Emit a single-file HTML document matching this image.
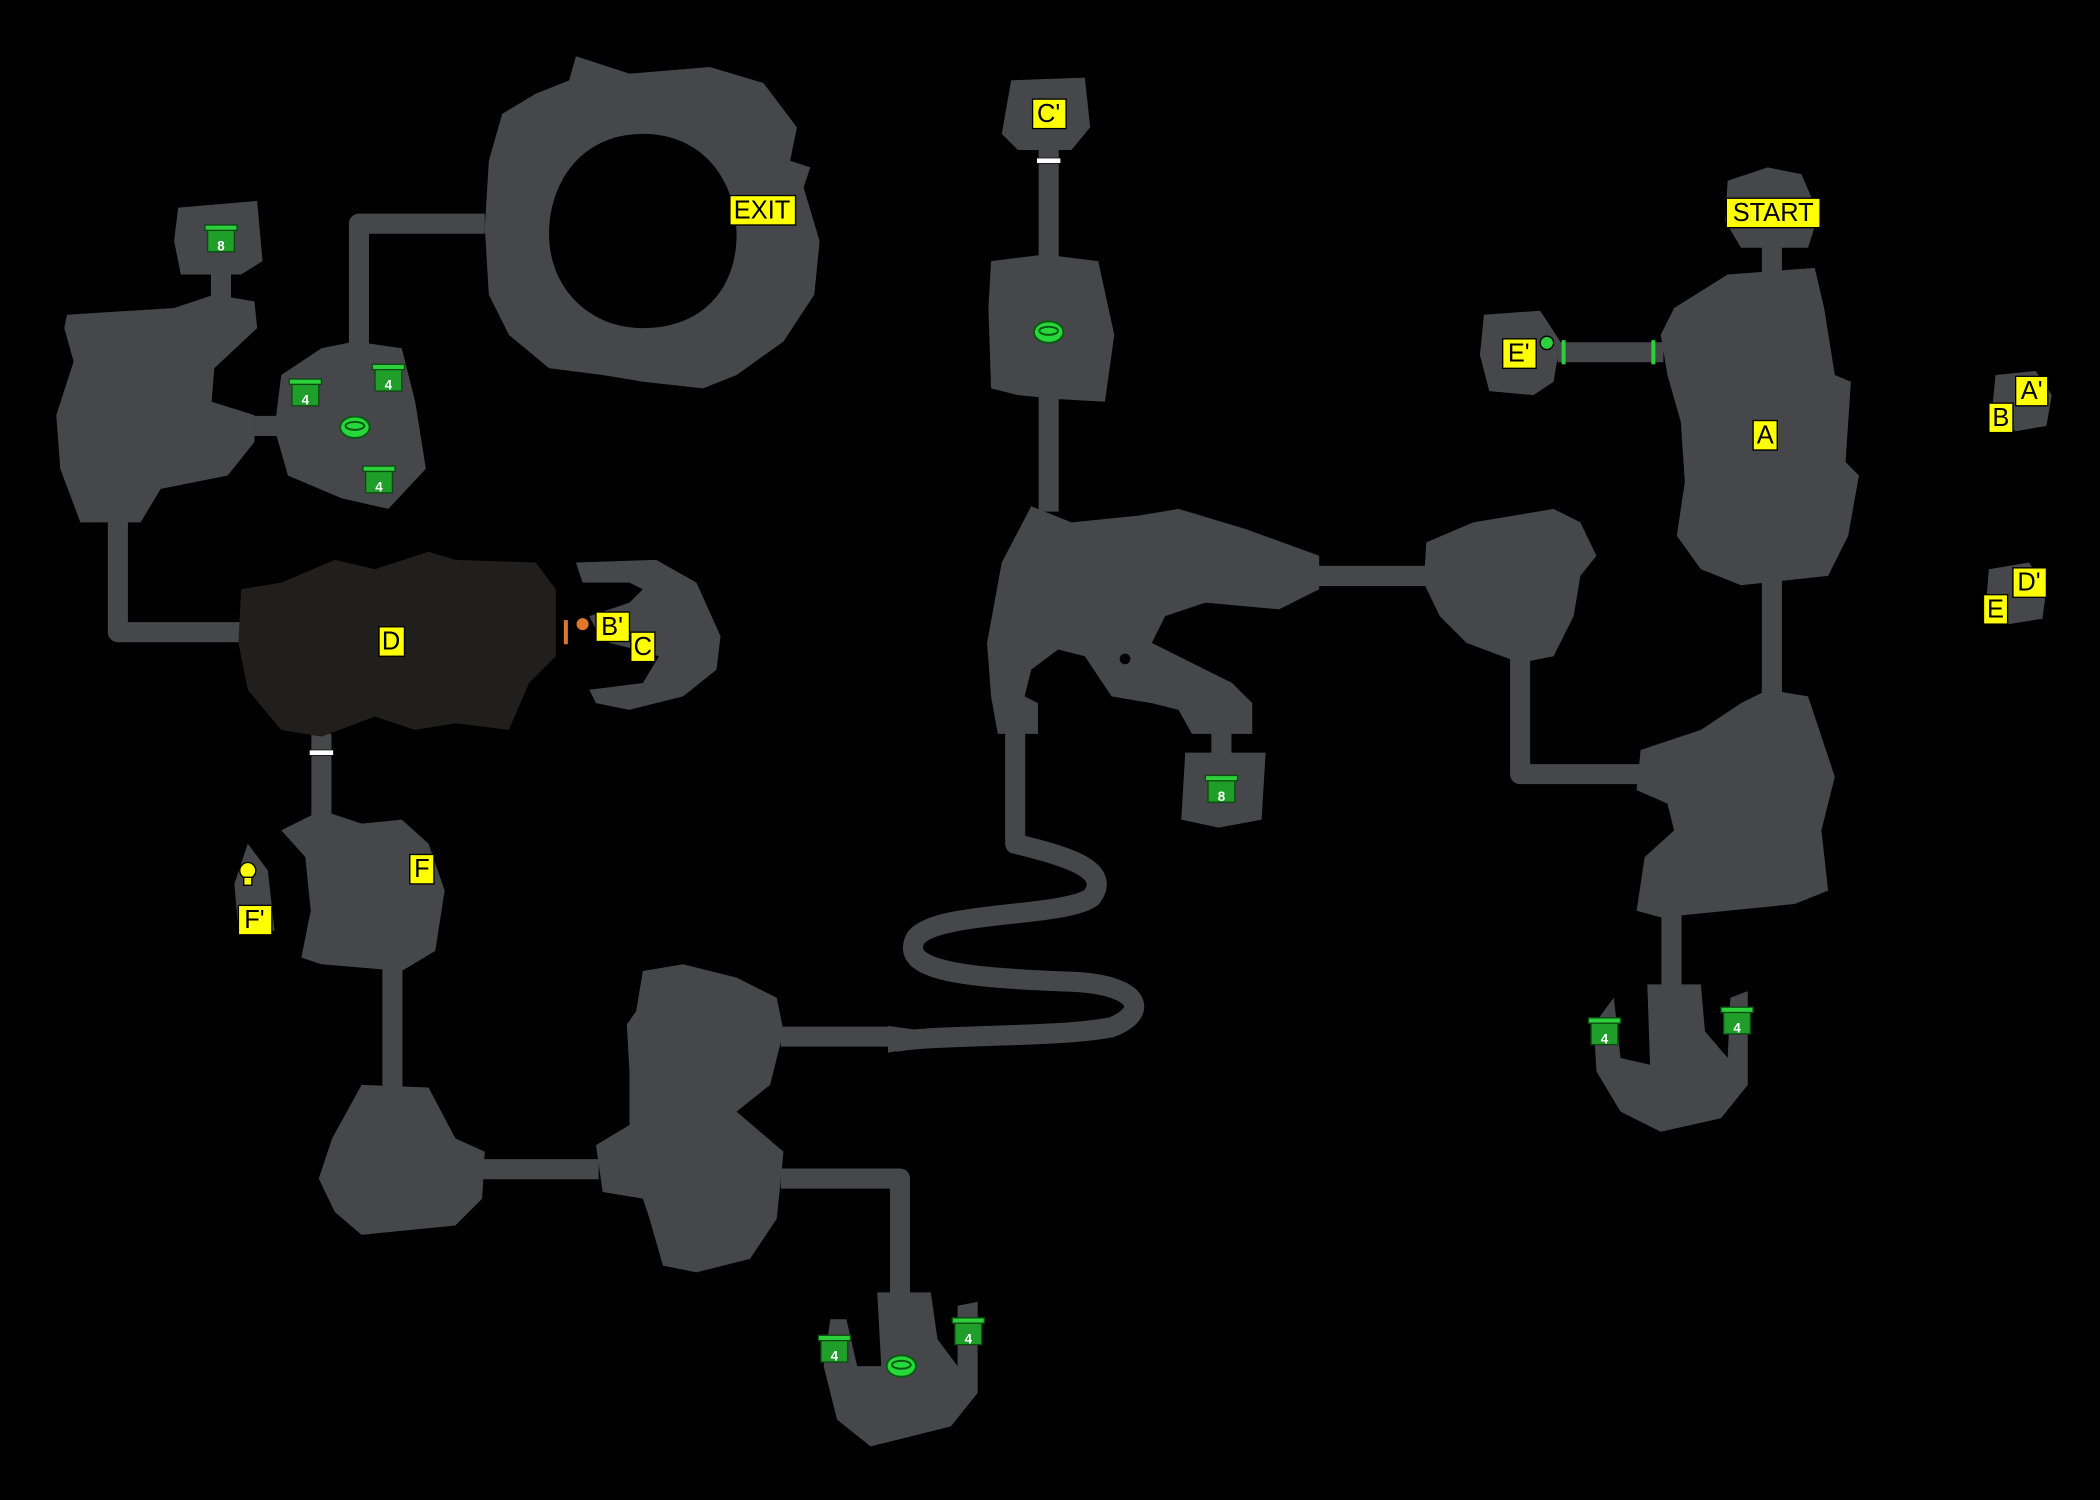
<!DOCTYPE html>
<html><head><meta charset="utf-8"><style>
html,body{margin:0;padding:0;background:#000;}
svg{display:block}
text{font-family:"Liberation Sans",sans-serif;}
.r{fill:#45474b}
.c{stroke:#45474b;stroke-width:15;fill:none;stroke-linejoin:round}
.lb{fill:#ffff00;stroke:#000;stroke-width:1}
.lt{font-size:19px;fill:#000;text-anchor:middle;dominant-baseline:central}
</style></head><body>
<svg width="2100" height="1500" viewBox="0 0 1568 1120" preserveAspectRatio="none" xmlns="http://www.w3.org/2000/svg">
<rect width="1568" height="1120" fill="#000"/>
<defs>
<g id="chest"><rect x="-10" y="-9" width="20" height="17" fill="#1f9e2a" stroke="#0d4a12" stroke-width="1"/><rect x="-12" y="-12" width="24" height="4" fill="#2bd03a" stroke="#0d4a12" stroke-width="1"/></g>
<g id="pad"><ellipse cx="0" cy="0" rx="11" ry="8" fill="#27d83a" stroke="#0b5a14" stroke-width="1.5"/><ellipse cx="0" cy="-1" rx="7" ry="3" fill="none" stroke="#0b5a14" stroke-width="1.5"/></g>
</defs>
<!-- corridors -->
<path class="c" d="M165 205 V228"/>
<path class="c" d="M190 318 H212"/>
<path class="c" d="M268 258 V167 H362"/>
<path class="c" d="M88 388 V472 H182"/>
<path class="c" d="M240 548 V615"/>
<path class="c" d="M293 722 V812"/>
<path class="c" d="M360 873 H447"/>
<path class="c" d="M583 774 H668"/>
<path class="c" d="M583 880 H672 V968"/>
<path class="c" d="M783 110 V196"/>
<path class="c" d="M783 296 V382"/>
<path class="c" d="M758 545 V630 C800 640 830 650 815 670 C795 685 700 680 684 700 C670 725 720 730 800 733 C850 735 860 755 830 767 C790 775 700 772 668 778"/>
<path class="c" d="M912 546 V566"/>
<path class="c" d="M983 430 H1067"/>
<path class="c" d="M1135 492 V578 H1226"/>
<path class="c" d="M1248 683 V737"/>
<path class="c" d="M1323 433 V518"/>
<path class="c" d="M1323 183 V207"/>
<path class="c" d="M1163 263 H1242"/>
<path d="M663 766 L700 771 L700 779 L663 786Z" class="r"/>
<!-- rooms -->
<polygon class="r" points="133,155 192,150 196,195 180,205 135,205 130,180"/>
<polygon class="r" points="50,235 130,230 160,220 190,225 192,245 160,275 158,300 190,310 190,330 170,355 120,365 105,390 60,390 45,350 42,310 55,270 48,245"/>
<polygon class="r" points="210,280 240,260 265,255 300,260 310,300 318,350 290,380 255,372 215,355 205,320"/>
<path class="r" fill-rule="evenodd" d="M430 42 L470 55 L530 50 L570 62 L595 95 L590 120 L605 125 L600 140 L612 180 L608 220 L585 255 L550 280 L525 290 L480 285 L450 280 L410 275 L380 250 L365 220 L362 170 L365 120 L375 85 L400 70 L425 60Z M480 100 C435 100 410 135 410 175 C410 215 440 245 480 245 C525 245 550 215 550 175 C550 135 525 100 480 100Z"/>
<polygon points="180,440 210,435 250,418 280,425 320,412 340,418 400,420 415,440 415,490 395,510 380,545 340,540 310,545 280,535 240,550 210,545 185,515 178,480" fill="#201f1d"/>
<polygon class="r" points="430,420 490,418 520,435 538,475 535,500 510,520 470,530 445,525 440,515 480,510 492,490 475,485 455,480 445,470 440,460 470,450 480,440 470,435 435,435"/>
<polygon class="r" points="210,620 240,605 270,615 300,612 320,630 332,665 325,710 300,725 240,720 225,715 232,680 228,640"/>
<polygon class="r" points="175,660 185,630 200,650 205,695 178,695"/>
<polygon class="r" points="270,810 320,812 340,850 362,860 360,895 340,915 270,922 250,905 238,880 248,850"/>
<polygon class="r" points="480,725 510,720 550,730 580,745 585,770 575,810 550,830 585,860 580,910 560,940 520,950 495,945 485,910 480,895 450,890 445,855 470,840 470,800 468,765 475,755"/>
<polygon class="r" points="655,965 695,965 700,1000 715,1020 715,975 730,972 730,1040 710,1065 650,1080 625,1060 615,1020 620,985 632,985 640,1020 658,1020"/>
<polygon class="r" points="755,60 810,58 814,95 800,112 760,112 748,100"/>
<polygon class="r" points="740,195 780,190 820,195 832,250 825,300 790,298 760,295 740,290 738,230"/>
<polygon class="r" points="770,378 800,390 850,385 880,380 930,395 985,415 985,440 955,455 900,450 870,460 860,480 890,495 920,510 935,525 935,548 890,548 880,530 860,525 830,520 810,490 790,485 770,500 765,520 775,525 775,548 745,548 740,520 737,480 748,420"/>
<ellipse cx="840" cy="492" rx="4" ry="4" fill="#000"/>
<polygon class="r" points="885,562 945,562 942,612 910,618 882,612"/>
<polygon class="r" points="1065,405 1100,390 1160,380 1180,390 1192,415 1180,430 1175,460 1160,490 1135,495 1095,480 1075,460 1063,435"/>
<polygon class="r" points="1225,560 1270,545 1300,525 1320,515 1350,520 1370,580 1360,620 1365,665 1340,675 1290,680 1240,685 1222,680 1228,640 1250,620 1245,600 1222,590"/>
<polygon class="r" points="1230,735 1270,735 1273,770 1290,790 1292,745 1305,740 1305,810 1285,835 1240,845 1210,830 1192,800 1190,765 1205,745 1210,790 1232,795"/>
<polygon class="r" points="1250,230 1290,205 1355,200 1362,230 1370,280 1382,285 1378,345 1388,355 1380,400 1365,430 1300,437 1270,425 1252,400 1258,360 1255,315 1245,280 1240,250"/>
<polygon class="r" points="1290,135 1320,125 1345,130 1358,160 1350,185 1300,185 1288,165"/>
<polygon class="r" points="1108,235 1150,232 1165,255 1160,285 1145,295 1112,292 1105,265"/>
<polygon class="r" points="1490,280 1520,277 1532,295 1528,318 1505,322 1487,310"/>
<polygon class="r" points="1485,425 1515,420 1528,440 1525,462 1500,466 1483,450"/>
<!-- markers -->
<rect x="774" y="118" width="18" height="4" fill="#fff" stroke="#000" stroke-width="0.5"/>
<rect x="231" y="560" width="18" height="4" fill="#fff" stroke="#000" stroke-width="0.5"/>
<rect x="421" y="463" width="3" height="18" fill="#e0782a"/>
<circle cx="435" cy="466" r="5" fill="#e0782a" stroke="#000"/>
<rect x="1166" y="254" width="3" height="18" fill="#2bd03a"/>
<rect x="1233" y="254" width="3" height="18" fill="#2bd03a"/>
<circle cx="1155" cy="256" r="5" fill="#2bd03a" stroke="#000"/>
<g transform="translate(185,650)"><circle r="6" fill="#ffff00" stroke="#000"/><rect x="-3" y="5" width="6" height="6" fill="#ffff00" stroke="#000"/></g>
<use href="#pad" x="265" y="319"/><use href="#pad" x="783" y="248"/><use href="#pad" x="673" y="1020"/>
<g font-size="10" fill="#fff" text-anchor="middle" font-weight="bold">
<use href="#chest" x="165" y="180"/><text x="165" y="187">8</text>
<use href="#chest" x="228" y="295"/><text x="228" y="302">4</text>
<use href="#chest" x="290" y="284"/><text x="290" y="291">4</text>
<use href="#chest" x="283" y="360"/><text x="283" y="367">4</text>
<use href="#chest" x="912" y="591"/><text x="912" y="598">8</text>
<use href="#chest" x="623" y="1009"/><text x="623" y="1016">4</text>
<use href="#chest" x="723" y="996"/><text x="723" y="1003">4</text>
<use href="#chest" x="1198" y="772"/><text x="1198" y="779">4</text>
<use href="#chest" x="1297" y="764"/><text x="1297" y="771">4</text>
</g>
<!-- labels -->
<g>
<rect class="lb" x="545" y="146" width="49" height="22"/><text class="lt" x="569" y="157">EXIT</text>
<rect class="lb" x="771" y="74" width="25" height="22"/><text class="lt" x="783" y="85">C'</text>
<rect class="lb" x="1289" y="148" width="70" height="22"/><text class="lt" x="1324" y="159">START</text>
<rect class="lb" x="1122" y="253" width="25" height="22"/><text class="lt" x="1134" y="264">E'</text>
<rect class="lb" x="1505" y="281" width="24" height="22"/><text class="lt" x="1517" y="292">A'</text>
<rect class="lb" x="1485" y="301" width="18" height="22"/><text class="lt" x="1494" y="312">B</text>
<rect class="lb" x="1309" y="314" width="18" height="22"/><text class="lt" x="1318" y="325">A</text>
<rect class="lb" x="1503" y="424" width="25" height="22"/><text class="lt" x="1515" y="435">D'</text>
<rect class="lb" x="1481" y="444" width="18" height="22"/><text class="lt" x="1490" y="455">E</text>
<rect class="lb" x="283" y="468" width="19" height="22"/><text class="lt" x="292" y="479">D</text>
<rect class="lb" x="445" y="457" width="25" height="22"/><text class="lt" x="457" y="468">B'</text>
<rect class="lb" x="471" y="472" width="18" height="22"/><text class="lt" x="480" y="483">C</text>
<rect class="lb" x="306" y="638" width="18" height="22"/><text class="lt" x="315" y="649">F</text>
<rect class="lb" x="178" y="676" width="25" height="22"/><text class="lt" x="190" y="687">F'</text>
</g>
</svg>
</body></html>
